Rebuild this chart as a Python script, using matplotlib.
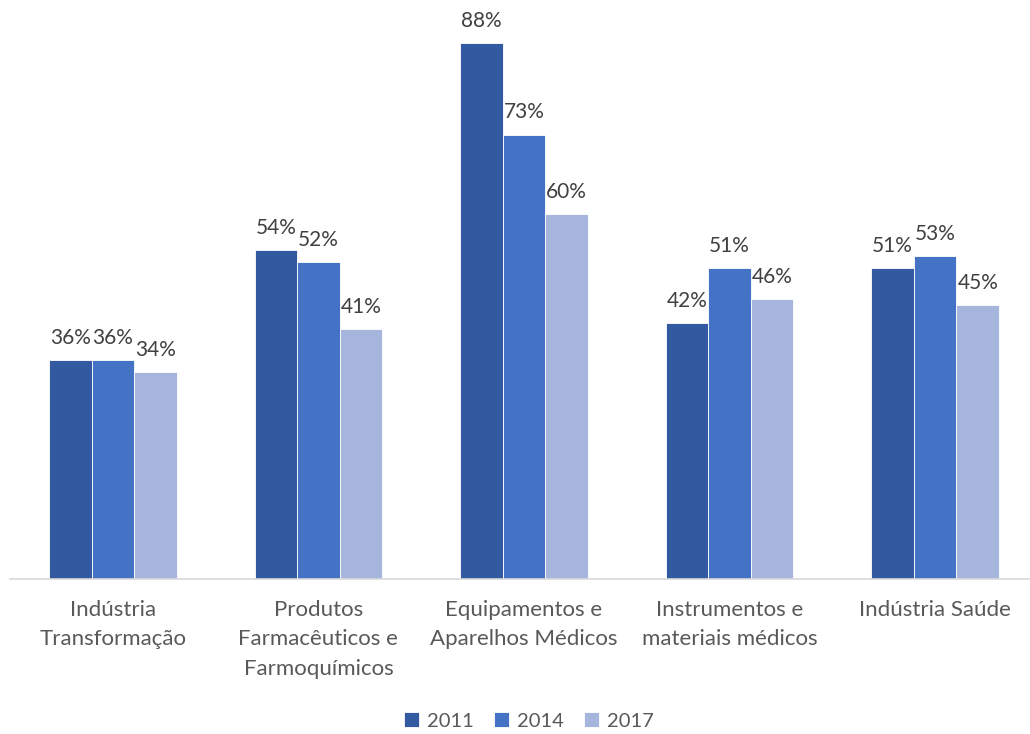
import numpy as np
import matplotlib.pyplot as plt

plt.rcParams['font.family'] = ['Lato', 'DejaVu Sans']

categories = ['Indústria\nTransformação', 'Produtos\nFarmacêuticos e\nFarmoquímicos',
              'Equipamentos e\nAparelhos Médicos', 'Instrumentos e\nmateriais médicos',
              'Indústria Saúde']
years = ['2011', '2014', '2017']
v2011 = [0.36, 0.54, 0.88, 0.42, 0.51]
v2014 = [0.36, 0.52, 0.73, 0.51, 0.53]
v2017 = [0.34, 0.41, 0.60, 0.46, 0.45]
colors = ['#335AA1', '#4472C4', '#A6B5DB']
text_color = '#595959'

fig = plt.figure(figsize=(10.30, 7.34), dpi=100)
ax = fig.add_axes([10 / 1030, 1 - 579 / 734, 1028 / 1030, 579 / 734])

x = np.arange(len(categories))
w = 0.207
for i, (vals, c, yr) in enumerate(zip([v2011, v2014, v2017], colors, years)):
    bars = ax.bar(x + (i - 1) * w, vals, w, color=c, edgecolor='white', linewidth=0.6, label=yr)
    for b, v in zip(bars, vals):
        ax.text(b.get_x() + b.get_width() / 2, v + 0.02, f'{v * 100:.0f}%',
                ha='center', va='bottom', fontsize=15, color='#404040')

ax.set_xlim(-0.5, 4.5)
ax.set_ylim(0, 0.951)
ax.set_yticks([])
ax.set_xticks(x)
ax.set_xticklabels(categories, fontsize=16, color=text_color, linespacing=1.6)
ax.tick_params(axis='x', length=0, pad=15)
for s in ['top', 'right', 'left']:
    ax.spines[s].set_visible(False)
ax.spines['bottom'].set_color('#D9D9D9')
ax.spines['bottom'].set_linewidth(1.2)

fig.legend(loc='center', bbox_to_anchor=(529 / 1030, 1 - 721 / 734), ncol=3, frameon=False,
           fontsize=14.5, labelcolor=text_color, handlelength=0.75, handleheight=0.75,
           handletextpad=0.4, columnspacing=1.0)

fig.savefig('out.png', dpi=100)
